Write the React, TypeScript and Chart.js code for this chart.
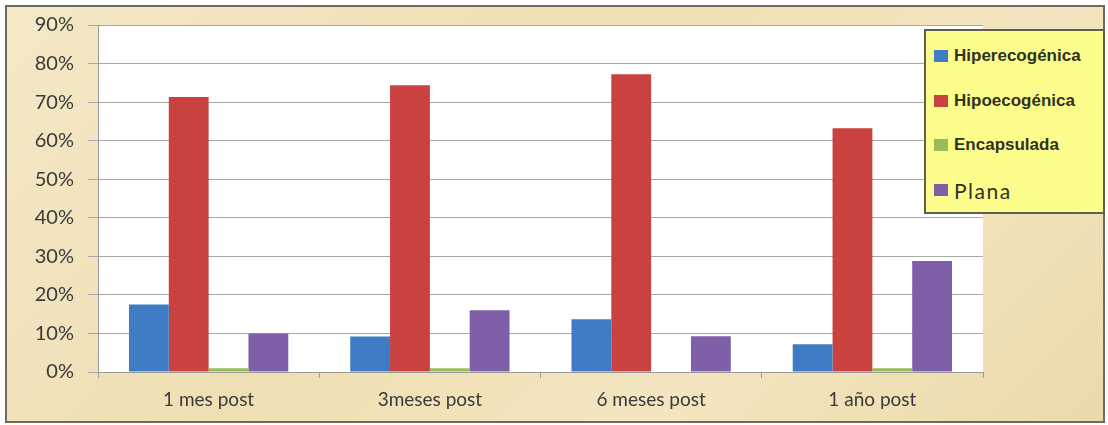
import React, { useEffect, useRef } from "react";
import { Chart, registerables } from "chart.js";

Chart.register(...registerables);

const categories = ["1 mes post", "3meses post", "6 meses post", "1 año post"];
const seriesNames = ["Hiperecogénica", "Hipoecogénica", "Encapsulada", "Plana"];
const hiperecogenica = [17.5, 9.2, 13.7, 7.2];
const hipoecogenica = [71.3, 74.4, 77.2, 63.2];
const encapsulada = [1, 1, 0, 1];
const plana = [10, 16, 9.3, 28.8];
const colors = ["#3f7cc6", "#c9423f", "#9bbb59", "#7f5fa8"];

const plotBg = {
  id: "plotBg",
  beforeDraw(chart: any) {
    const { ctx, chartArea } = chart;
    ctx.save();
    ctx.fillStyle = "#ffffff";
    ctx.fillRect(chartArea.left, chartArea.top, chartArea.right - chartArea.left, chartArea.bottom - chartArea.top);
    ctx.restore();
  },
};

export default function App() {
  const ref = useRef<HTMLCanvasElement>(null);
  useEffect(() => {
    document.body.style.margin = "0";
    const all = [hiperecogenica, hipoecogenica, encapsulada, plana];
    const chart = new Chart(ref.current!, {
      type: "bar",
      data: {
        labels: categories,
        datasets: seriesNames.map((n, i) => ({
          label: n,
          data: all[i],
          backgroundColor: colors[i],
          borderWidth: 0,
          barPercentage: 1,
          categoryPercentage: 0.72,
        })),
      },
      options: {
        animation: false,
        responsive: false,
        maintainAspectRatio: false,
        layout: { padding: { left: 0, top: 18, right: 120, bottom: 0 } },
        plugins: { legend: { display: false }, tooltip: { enabled: false } },
        scales: {
          x: {
            grid: { display: true, drawOnChartArea: false, offset: true, color: "#9a9a9a", tickLength: 6 },
            border: { display: true, color: "#9a9a9a" },
            ticks: { color: "#3a3a3a", font: { family: "Lato", size: 19 }, padding: 10 },
            afterFit(s: any) { s.height = 49; s.paddingLeft = 0; s.paddingRight = 0; },
          },
          y: {
            min: 0,
            max: 90,
            grid: { color: "#a8a8a8", tickLength: 10 },
            border: { display: true, color: "#9a9a9a" },
            ticks: {
              stepSize: 10,
              color: "#3a3a3a",
              font: { family: "Lato", size: 20 },
              padding: 14,
              callback: (v: any) => v + "%",
            },
            afterFit(s: any) { s.width = 91; s.paddingTop = 0; s.paddingBottom = 0; },
          },
        },
      },
      plugins: [plotBg],
    });
    return () => chart.destroy();
  }, []);

  return (
    <div style={{ position: "relative", width: 1108, height: 425, background: "#ffffff", overflow: "hidden" }}>
      <div
        style={{
          position: "absolute",
          left: 5,
          top: 5,
          width: 1096,
          height: 414,
          border: "2px solid #6e6a5c",
          background: "linear-gradient(135deg, #f4e8c6 0%, #efdfb4 40%, #f3e5bf 70%, #ecdaab 100%)",
        }}
      >
        <canvas ref={ref} width={1096} height={414} style={{ display: "block" }} />
        <div
          style={{
            position: "absolute",
            left: 917,
            top: 22,
            width: 181,
            height: 185,
            background: "#fdfd8c",
            border: "2px solid #5f5f4a",
            boxSizing: "border-box",
          }}
        >
          {seriesNames.map((n, i) => (
            <div
              key={n}
              style={{
                position: "absolute",
                left: 8,
                top: [14, 59, 103, 148][i],
                height: 22,
                display: "flex",
                alignItems: "center",
                whiteSpace: "nowrap",
              }}
            >
              <span style={{ display: "inline-block", width: 14, height: 12, background: colors[i], marginRight: 6 }} />
              <span
                style={{
                  fontFamily: i === 3 ? "Lato" : "Liberation Sans Narrow, Liberation Sans",
                  fontWeight: i === 3 ? 400 : 700,
                  fontSize: i === 3 ? 21 : 17,
                  color: "#2e3320",
                  letterSpacing: i === 3 ? 1.5 : 0,
                }}
              >
                {n}
              </span>
            </div>
          ))}
        </div>
      </div>
    </div>
  );
}
